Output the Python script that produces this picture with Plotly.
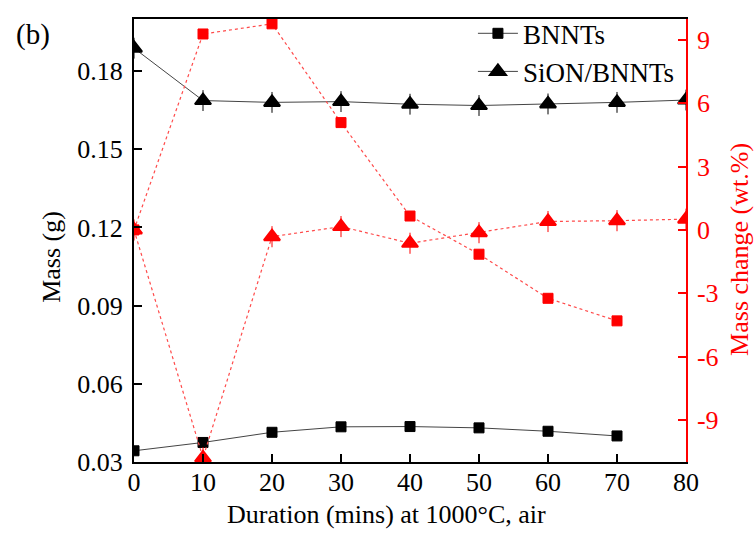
import plotly.graph_objects as go

# Oxidation test at 1000 °C in air: sample mass and relative mass change
duration = [0, 10, 20, 30, 40, 50, 60, 70, 80]

bnnt_time = [0, 10, 20, 30, 40, 50, 60, 70]
bnnt_mass = [0.0343, 0.0375, 0.0414, 0.0435, 0.0436, 0.0431, 0.0418, 0.0400]
bnnt_change = [0.0, 9.29, 9.77, 5.09, 0.66, -1.15, -3.24, -4.31]

sion_mass = [0.1888, 0.1687, 0.1680, 0.1683, 0.1673, 0.1668, 0.1674, 0.1680, 0.1689]
sion_mass_err = [0.004] * 9
sion_change = [0.0, -10.8, -0.32, 0.16, -0.63, -0.13, 0.40, 0.44, 0.51]
sion_change_err = [0.5] * 9

x_ticks = [0, 10, 20, 30, 40, 50, 60, 70, 80]
mass_ticks = [0.03, 0.06, 0.09, 0.12, 0.15, 0.18]
change_ticks = [-9, -6, -3, 0, 3, 6, 9]

FONT = "Liberation Serif"
RED = "#ff0000"
RED_LINE = "#ff4a4a"

fig = go.Figure()

# mass change (right axis, red dotted)
fig.add_trace(go.Scatter(
    x=bnnt_time, y=bnnt_change, yaxis="y2", mode="lines+markers",
    line=dict(color=RED_LINE, width=1.2, dash="dot"),
    marker=dict(symbol="square", size=10, color=RED, line=dict(color=RED, width=1)),
    showlegend=False))
fig.add_trace(go.Scatter(
    x=duration, y=sion_change, yaxis="y2", mode="lines+markers",
    line=dict(color=RED_LINE, width=1.2, dash="dot"),
    marker=dict(symbol="triangle-up", size=14, color=RED, line=dict(color=RED, width=2)),
    error_y=dict(type="data", array=sion_change_err, color=RED, thickness=1, width=0),
    showlegend=False))

# mass (left axis, black)
fig.add_trace(go.Scatter(
    x=bnnt_time, y=bnnt_mass, mode="lines+markers", name="BNNTs",
    line=dict(color="#444444", width=1),
    marker=dict(symbol="square", size=10, color="black", line=dict(color="black", width=1))))
fig.add_trace(go.Scatter(
    x=duration, y=sion_mass, mode="lines+markers", name="SiON/BNNTs",
    line=dict(color="#444444", width=1),
    marker=dict(symbol="triangle-up", size=14, color="black", line=dict(color="black", width=2)),
    error_y=dict(type="data", array=sion_mass_err, color="black", thickness=1, width=0)))

fig.update_layout(
    width=755, height=536,
    margin=dict(l=134, r=69, t=19, b=74, autoexpand=False),
    paper_bgcolor="white", plot_bgcolor="white",
    font=dict(family=FONT, size=26, color="black"),
    showlegend=True,
    legend=dict(x=0.614, xanchor="left", y=1.022, yanchor="top",
                bgcolor="rgba(0,0,0,0)", font=dict(family=FONT, size=27),
                itemwidth=40, tracegroupgap=0),
    xaxis=dict(range=[0, 80], tickvals=x_ticks, ticks="inside", ticklen=8,
               tickwidth=1.5, tickcolor="black", showline=True, linecolor="black",
               linewidth=2, mirror=True, showgrid=False, zeroline=False,
               ticklabelstandoff=-4,
               tickfont=dict(family=FONT, size=26)),
    yaxis=dict(range=[0.03, 0.20], tickvals=mass_ticks, tickformat=".2f",
               ticks="inside", ticklen=8, tickwidth=1.5, tickcolor="black",
               showline=True, linecolor="black", linewidth=2, showgrid=False,
               zeroline=False, ticklabelstandoff=4,
               tickfont=dict(family=FONT, size=26)),
    yaxis2=dict(range=[-11, 10], tickvals=change_ticks,
                ticktext=[str(v) for v in change_ticks],
                overlaying="y", side="right",
                ticks="inside", ticklen=8, tickwidth=1.5, tickcolor=RED,
                showline=True, linecolor=RED, linewidth=1.5, showgrid=False,
                zeroline=False, ticklabelstandoff=4,
                tickfont=dict(family=FONT, size=26, color=RED)),
    annotations=[
        dict(text="(b)", xref="paper", yref="paper", x=-0.183, y=0.964,
             xanchor="center", yanchor="middle",
             showarrow=False, font=dict(family=FONT, size=29)),
        dict(text="Mass (g)", xref="paper", yref="paper", x=-0.1486, y=0.463,
             xanchor="center", yanchor="middle",
             textangle=-90, showarrow=False, font=dict(family=FONT, size=26)),
        dict(text="Mass change (wt.%)", xref="paper", yref="paper", x=1.098, y=0.479,
             xanchor="center", yanchor="middle",
             textangle=-90, showarrow=False, font=dict(family=FONT, size=26, color=RED)),
        dict(text="Duration (mins) at 1000°C, air", xref="paper", yref="paper",
             x=0.457, y=-0.118, xanchor="center", yanchor="middle",
             showarrow=False, font=dict(family=FONT, size=26)),
    ],
)

fig.write_html("out.html")
